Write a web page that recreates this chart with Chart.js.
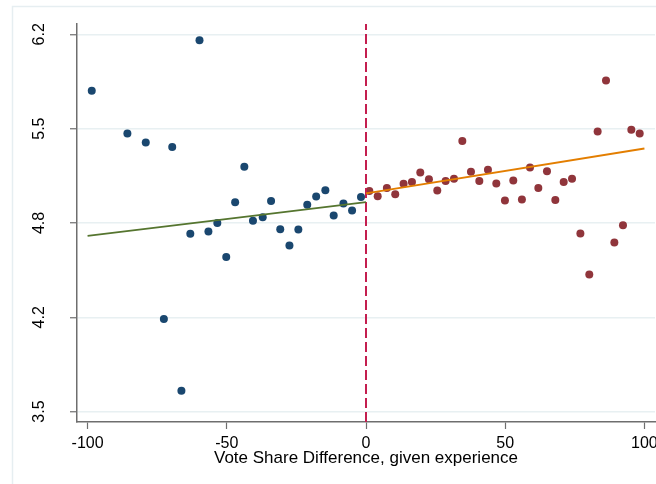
<!DOCTYPE html>
<html>
<head>
<meta charset="utf-8">
<script src="https://cdn.jsdelivr.net/npm/chart.js@4"></script>
<style>
  html, body { margin: 0; padding: 0; background: #fff; }
  #wrap { width: 656px; height: 484px; position: relative; }
</style>
</head>
<body>
<div id="wrap"><canvas id="rdChart" width="656" height="484"></canvas></div>
<script>
// binned means, left of cutoff
const leftX = [-98.5, -85.7, -79.1, -72.6, -69.6, -66.3, -63.1, -59.8, -56.6, -53.4, -50.2, -47.0, -43.7,
    -40.6, -37.1, -34.1, -30.8, -27.5, -24.3, -21.1, -17.9, -14.6, -11.6, -8.1, -5.0, -1.8];
const leftY = [5.796, 5.491, 5.426, 4.163, 5.393, 3.650, 4.772, 6.157, 4.789, 4.850, 4.607, 4.999, 5.252,
    4.865, 4.891, 5.008, 4.805, 4.689, 4.803, 4.980, 5.040, 5.085, 4.903, 4.989, 4.939, 5.035];

// binned means, right of cutoff
const rightX = [1.2, 4.2, 7.5, 10.5, 13.5, 16.5, 19.5, 22.6, 25.6, 28.6, 31.6, 34.6, 37.7, 40.7, 43.8, 46.8,
    49.9, 52.9, 56.0, 58.9, 61.9, 65.0, 68.0, 71.0, 74.0, 77.0, 80.2, 83.2, 86.2, 89.2, 92.3, 95.3, 98.3];
const rightY = [5.078, 5.042, 5.101, 5.056, 5.130, 5.144, 5.211, 5.163, 5.082, 5.151, 5.166, 5.436, 5.216,
    5.151, 5.230, 5.133, 5.011, 5.154, 5.018, 5.247, 5.101, 5.221, 5.015, 5.144, 5.166, 4.774, 4.481, 5.505,
    5.870, 4.710, 4.834, 5.517, 5.491];

// linear fits
const fitLeftX = [-100, 0];
const fitLeftY = [4.757, 4.999];
const fitRightX = [0, 100];
const fitRightY = [5.061, 5.383];

const cutoffX = [0, 0];

const xTicks = [-100, -50, 0, 50, 100];
const yTicks = [3.5, 4.175, 4.85, 5.525, 6.2];
const yTickLabels = ['3.5', '4.2', '4.8', '5.5', '6.2'];
const xTitle = 'Vote Share Difference, given experience';

const X_MIN = -103.8, X_MAX = 103.8;
const Y_MIN = 3.4255, Y_MAX = 6.274;

const FONT = 'Liberation Sans, Arial, sans-serif';
const AXIS_COLOR = '#6e6e6e';

function pts(xs, ys) {
    return xs.map((x, i) => ({ x: x, y: ys[i] }));
}

// white page + light outer frame
const framePlugin = {
    id: 'frame',
    beforeDraw(chart) {
        const c = chart.ctx;
        c.save();
        c.fillStyle = '#fff';
        c.fillRect(0, 0, chart.width, chart.height);
        c.strokeStyle = '#e6eef1';
        c.lineWidth = 1.5;
        c.strokeRect(12.5, 6.5, 700, 520);
        c.restore();
    }
};

// rotated y tick labels (stata style)
const yLabelPlugin = {
    id: 'yLabels',
    afterDraw(chart) {
        const c = chart.ctx;
        const ys = chart.scales.y;
        c.save();
        c.fillStyle = '#000';
        c.font = '16px ' + FONT;
        c.textAlign = 'center';
        c.textBaseline = 'middle';
        yTicks.forEach((v, i) => {
            const py = ys.getPixelForValue(v);
            c.save();
            c.translate(40, py);
            c.rotate(-Math.PI / 2);
            c.fillText(yTickLabels[i], 0, 0);
            c.restore();
        });
        c.restore();
    }
};

const ctx = document.getElementById('rdChart').getContext('2d');

const rdChart = new Chart(ctx, {
    type: 'scatter',
    data: {
        datasets: [
            {
                type: 'line',
                data: pts(fitLeftX, fitLeftY),
                borderColor: '#55752f',
                borderWidth: 1.8,
                pointRadius: 0,
                fill: false,
                order: 0
            },
            {
                type: 'line',
                data: pts(fitRightX, fitRightY),
                borderColor: '#e37e00',
                borderWidth: 1.8,
                pointRadius: 0,
                fill: false,
                order: 0
            },
            {
                type: 'line',
                data: pts(cutoffX, [Y_MIN, Y_MAX]),
                borderColor: '#c41e4f',
                borderWidth: 2,
                borderDash: [10, 4],
                pointRadius: 0,
                fill: false,
                order: 1
            },
            {
                data: pts(leftX, leftY),
                backgroundColor: '#1a476f',
                borderWidth: 0,
                pointRadius: 4,
                order: 2
            },
            {
                data: pts(rightX, rightY),
                backgroundColor: '#90353b',
                borderWidth: 0,
                pointRadius: 4,
                order: 2
            }
        ]
    },
    options: {
        responsive: false,
        animation: false,
        layout: { autoPadding: false, padding: { top: 24, right: 1, left: 0, bottom: 0 } },
        plugins: {
            legend: { display: false },
            tooltip: { enabled: false }
        },
        scales: {
            x: {
                type: 'linear',
                min: X_MIN,
                max: X_MAX,
                afterBuildTicks: (scale) => { scale.ticks = xTicks.map(v => ({ value: v })); },
                afterFit: (scale) => {
                    scale.height = 62;
                    scale.paddingLeft = 0;
                    scale.paddingRight = 0;
                },
                grid: {
                    display: true,
                    drawOnChartArea: false,
                    drawTicks: true,
                    tickLength: 7,
                    tickColor: AXIS_COLOR,
                    tickWidth: 1.2
                },
                border: { display: true, color: AXIS_COLOR, width: 1.5 },
                ticks: {
                    color: '#000',
                    font: { family: FONT, size: 16 },
                    padding: 5,
                    maxRotation: 0,
                    callback: (v) => String(v)
                },
                title: {
                    display: true,
                    text: xTitle,
                    color: '#000',
                    font: { family: FONT, size: 17 },
                    padding: { top: 0, bottom: 15 }
                }
            },
            y: {
                type: 'linear',
                min: Y_MIN,
                max: Y_MAX,
                afterBuildTicks: (scale) => { scale.ticks = yTicks.map(v => ({ value: v })); },
                afterFit: (scale) => {
                    scale.width = 77;
                    scale.paddingTop = 0;
                    scale.paddingBottom = 0;
                },
                grid: {
                    display: true,
                    drawOnChartArea: true,
                    drawTicks: true,
                    tickLength: 7,
                    color: '#e8f0f2',
                    lineWidth: 1.5,
                    tickColor: AXIS_COLOR,
                    tickWidth: 1.2
                },
                border: { display: true, color: AXIS_COLOR, width: 1.5 },
                ticks: { display: false }
            }
        }
    },
    plugins: [framePlugin, yLabelPlugin]
});
</script>
</body>
</html>
